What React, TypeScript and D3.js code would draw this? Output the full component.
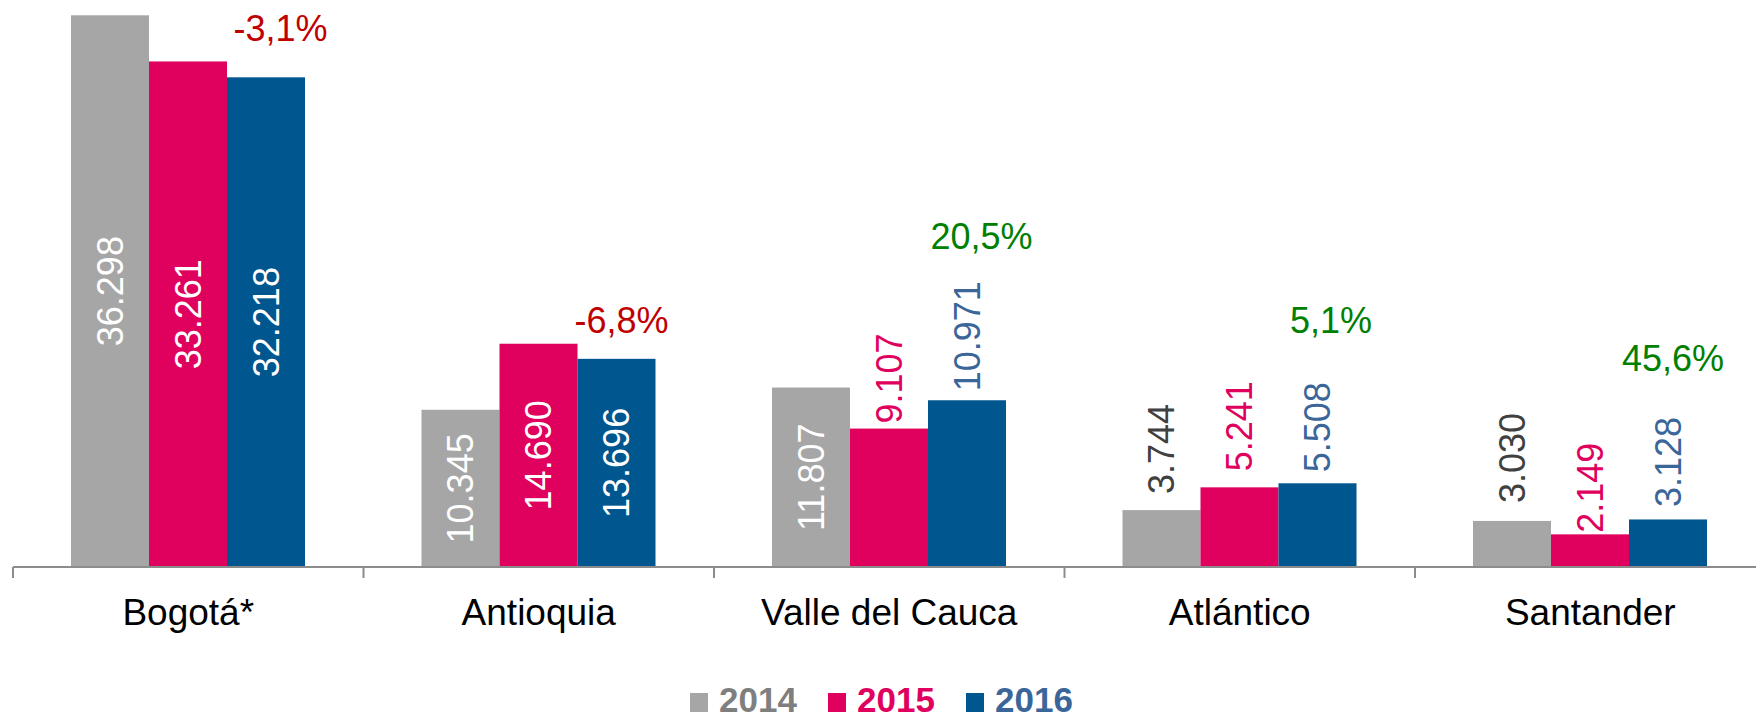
import React, { useEffect } from "react";
import * as d3 from "d3";

const categories = ["Bogotá*", "Antioquia", "Valle del Cauca", "Atlántico", "Santander"];
const seriesNames = ["2014", "2015", "2016"];
const values2014 = [36298, 10345, 11807, 3744, 3030];
const values2015 = [33261, 14690, 9107, 5241, 2149];
const values2016 = [32218, 13696, 10971, 5508, 3128];
const pctLabels = [-3.1, -6.8, 20.5, 5.1, 45.6];
// anchor of each % label, in value units (centre height)
const pctAnchorValues = [35430, 16250, 21745, 16250, 13718];

// presentation
const barColors = ["#A6A6A6", "#E0005E", "#00568F"];
const outLabelColors = ["#404040", "#E0005E", "#3A6699"];
const legendTextColors = ["#7F7F7F", "#E0005E", "#3A6699"];
// label placement: null = centered inside bar, number = px gap above bar
const labelGaps = [
  [null, null, null, 16, 18],
  [null, null, 5, 16, 1.5],
  [null, null, 9, 11, 12.5],
];
const pctDx = [267.5, 258, 267.5, 266.5, 258];

const W = 1756;
const H = 720;
const FONT = "'Liberation Sans', Arial, sans-serif";

const locale = d3.formatLocale({ decimal: ",", thousands: ".", grouping: [3], currency: ["", ""], minus: "-" });
const fmtNum = locale.format(",d");
const fmtPct = (v: number) => locale.format(".1f")(v).replace("\u2212", "-") + "%";

export default function App() {
  useEffect(() => {
    document.body.style.margin = "0";
  }, []);

  const series = [values2014, values2015, values2016];
  const baseY = 567;
  const x0 = d3.scaleBand<string>().domain(categories).range([13, 13 + 5 * 350.5]);
  const bw = x0.bandwidth();
  const x1 = d3.scaleBand<string>().domain(seriesNames).range([58, bw - 58.5]);
  const y = d3.scaleLinear().domain([0, 37000]).range([baseY, baseY - 37000 * (551.7 / 36298)]);

  const tickXs = categories.map((c) => x0(c) as number);

  return (
    <svg width={W} height={H} style={{ display: "block", background: "#fff" }} fontFamily={FONT}>
      {/* bars */}
      {series.map((vals, si) =>
        vals.map((v, ci) => {
          const bx = (x0(categories[ci]) as number) + (x1(seriesNames[si]) as number);
          return (
            <rect
              key={`b${si}-${ci}`}
              x={bx}
              y={y(v)}
              width={x1.bandwidth()}
              height={baseY - y(v)}
              fill={barColors[si]}
            />
          );
        })
      )}
      {/* axis */}
      <line x1={13} x2={W} y1={baseY} y2={baseY} stroke="#8C8C8C" strokeWidth={2} />
      {tickXs.map((tx, i) => (
        <line key={`t${i}`} x1={tx} x2={tx} y1={baseY} y2={baseY + 11} stroke="#8C8C8C" strokeWidth={2} />
      ))}
      {/* category labels */}
      {categories.map((c) => (
        <text
          key={c}
          x={(x0(c) as number) + bw / 2}
          y={625}
          textAnchor="middle"
          fontSize={37}
          fill="#000"
        >
          {c}
        </text>
      ))}
      {/* value labels */}
      {series.map((vals, si) =>
        vals.map((v, ci) => {
          const cx = (x0(categories[ci]) as number) + (x1(seriesNames[si]) as number) + x1.bandwidth() / 2;
          const gap = labelGaps[si][ci];
          if (gap === null) {
            const cy = (y(v) + baseY) / 2;
            return (
              <text
                key={`l${si}-${ci}`}
                transform={`translate(${cx},${cy}) rotate(-90)`}
                textAnchor="middle"
                dominantBaseline="central"
                fontSize={36}
                fill="#FFFFFF"
              >
                {fmtNum(v)}
              </text>
            );
          }
          const sy = y(v) - gap;
          return (
            <text
              key={`l${si}-${ci}`}
              transform={`translate(${cx},${sy}) rotate(-90)`}
              textAnchor="start"
              dominantBaseline="central"
              fontSize={36}
              fill={outLabelColors[si]}
            >
              {fmtNum(v)}
            </text>
          );
        })
      )}
      {/* percentage annotations */}
      {pctLabels.map((p, i) => (
        <text
          key={`p${i}`}
          x={(x0(categories[i]) as number) + pctDx[i]}
          y={y(pctAnchorValues[i])}
          textAnchor="middle"
          dominantBaseline="central"
          fontSize={36}
          fill={p < 0 ? "#C00000" : "#008000"}
        >
          {fmtPct(p)}
        </text>
      ))}
      {/* legend */}
      {seriesNames.map((s, i) => {
        const lx = 690 + i * 138;
        return (
          <g key={`lg${s}`}>
            <rect x={lx} y={693} width={18} height={19} fill={barColors[i]} />
            <text x={lx + 29} y={712} fontSize={35} fontWeight="bold" fill={legendTextColors[i]}>
              {s}
            </text>
          </g>
        );
      })}
    </svg>
  );
}
